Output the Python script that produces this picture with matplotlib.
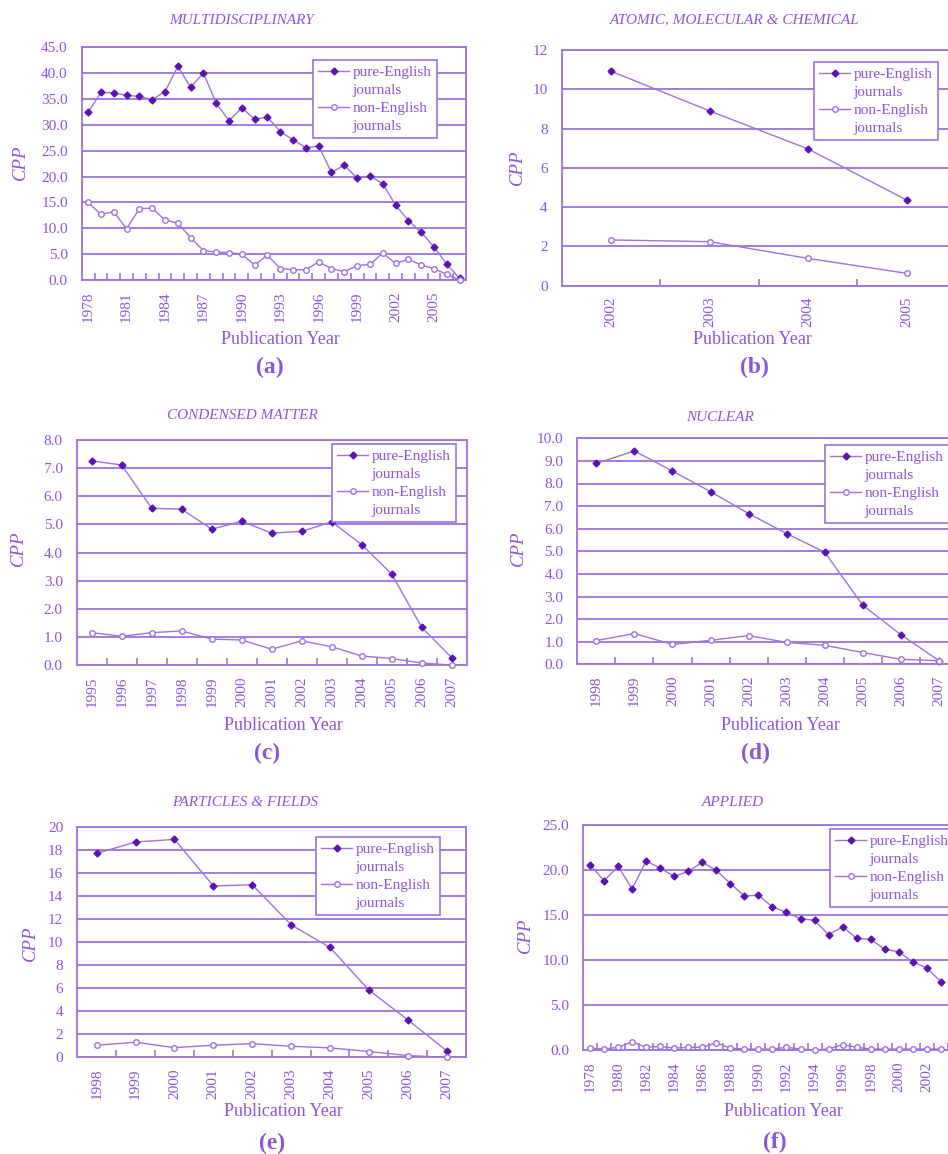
import numpy as np
import matplotlib
matplotlib.use("Agg")
import matplotlib.pyplot as plt
from matplotlib.lines import Line2D

W, H = 948, 1154
TXT = '#8a55d8'
LINE = '#9c72dc'
DARK = '#5b12b0'

plt.rcParams['font.family'] = ['Liberation Serif', 'DejaVu Serif']

# ---- data ----
years_a = list(range(1978, 2008))
pure_a = [32.4, 36.3, 36.2, 35.7, 35.5, 34.9, 36.4, 41.3, 37.3, 40.0,
          34.2, 30.8, 33.3, 31.1, 31.5, 28.7, 27.1, 25.6, 25.9, 20.8,
          22.2, 19.7, 20.1, 18.6, 14.5, 11.5, 9.2, 6.4, 3.1, 0.3]
non_a = [15.0, 12.7, 13.2, 9.9, 13.8, 13.9, 11.6, 11.0, 8.2, 5.7,
         5.4, 5.3, 5.0, 2.9, 4.8, 2.2, 2.0, 2.0, 3.5, 2.2,
         1.6, 2.8, 3.0, 5.2, 3.2, 4.0, 2.9, 2.2, 1.1, 0.0]

years_b = [2002, 2003, 2004, 2005]
pure_b = [10.92, 8.9, 6.96, 4.36]
non_b = [2.33, 2.24, 1.39, 0.63]

years_c = list(range(1995, 2008))
pure_c = [7.26, 7.11, 5.57, 5.54, 4.83, 5.11, 4.69, 4.75, 5.09, 4.28, 3.23, 1.34, 0.26]
non_c = [1.15, 1.02, 1.15, 1.21, 0.92, 0.89, 0.56, 0.86, 0.65, 0.32, 0.23, 0.07, 0.0]

years_d = list(range(1998, 2008))
pure_d = [8.89, 9.44, 8.55, 7.64, 6.67, 5.78, 4.96, 2.61, 1.31, 0.16]
non_d = [1.05, 1.36, 0.88, 1.06, 1.27, 0.97, 0.84, 0.52, 0.22, 0.16]

years_e = list(range(1998, 2008))
pure_e = [17.73, 18.72, 18.95, 14.9, 15.0, 11.53, 9.55, 5.85, 3.26, 0.58]
non_e = [1.05, 1.31, 0.84, 1.05, 1.19, 0.96, 0.82, 0.5, 0.15, 0.0]

years_f = list(range(1978, 2008))
pure_f = [20.6, 18.8, 20.4, 17.9, 21.0, 20.2, 19.3, 19.85, 20.85, 19.96,
          18.5, 17.1, 17.2, 15.9, 15.3, 14.6, 14.4, 12.8, 13.7, 12.4,
          12.3, 11.2, 10.9, 9.8, 9.1, 7.6]
non_f = [0.2, 0.1, 0.3, 0.9, 0.3, 0.4, 0.2, 0.3, 0.3, 0.8,
         0.2, 0.1, 0.1, 0.1, 0.3, 0.1, 0.0, 0.1, 0.6, 0.3,
         0.1, 0.1, 0.1, 0.1, 0.1, 0.1]

fig = plt.figure(figsize=(W / 100, H / 100), dpi=100)


def px(x, y):
    return x / W, 1 - y / H


def panel(box, years, pure, non, ymax, ystep, yfmt, lab_every, title, tpos,
          cpp, xl, letter, leg):
    left, top, right, bottom = box
    ax = fig.add_axes([left / W, 1 - bottom / H, (right - left) / W, (bottom - top) / H])
    n = len(years)
    ax.plot(np.arange(len(pure)), pure, color=LINE, lw=1.0, marker='D', ms=3.5,
            mfc=DARK, mec=DARK, zorder=3, clip_on=False)
    ax.plot(np.arange(len(non)), non, color=LINE, lw=1.0, marker='o', ms=4,
            mfc='white', mec=LINE, mew=1.0, zorder=3, clip_on=False)
    ax.set_xlim(-0.5, n - 0.5)
    ax.set_ylim(0, ymax)
    yt = np.arange(0, ymax + ystep / 2, ystep)
    ax.set_yticks(yt)
    ax.set_yticklabels([yfmt % v for v in yt])
    ax.yaxis.grid(True, color=LINE, lw=1.3)
    ax.set_axisbelow(True)

    # only label the years that fall inside the picture
    step = (right - left) / n
    idx = [i for i in range(0, n, lab_every) if left + (i + 0.5) * step < W - 5]
    ax.set_xticks(idx)
    ax.set_xticklabels([str(years[i]) for i in idx], rotation=90)
    ax.set_xticks(np.arange(0.5, n - 0.5, 1), minor=True)
    ax.tick_params(axis='x', which='major', length=0, pad=8, labelsize=11, labelcolor=TXT)
    ax.tick_params(axis='x', which='minor', length=5, direction='in', color=LINE, width=1.2)
    ax.tick_params(axis='y', length=0, pad=10, labelsize=11, labelcolor=TXT)
    for s in ax.spines.values():
        s.set_color(LINE)
        s.set_linewidth(1.3)

    fig.text(*px(*tpos), title, ha='center', va='center', color=TXT,
             fontsize=11, fontstyle='italic')
    fig.text(*px(*cpp), 'CPP', ha='center', va='center', color=TXT,
             fontsize=13.5, fontstyle='italic', rotation=90)
    fig.text(*px(*xl), 'Publication Year', ha='center', va='center',
             color=TXT, fontsize=13)
    fig.text(*px(*letter[1:]), letter[0], ha='center', va='center',
             color=TXT, fontsize=17, fontweight='bold')

    handles = [Line2D([], [], color=LINE, lw=1.0, marker='D', ms=3.5, mfc=DARK, mec=DARK),
               Line2D([], [], linestyle='none'),
               Line2D([], [], color=LINE, lw=1.0, marker='o', ms=4, mfc='white', mec=LINE),
               Line2D([], [], linestyle='none')]
    labels = ['pure-English', 'journals', 'non-English', 'journals']
    lg = fig.legend(handles, labels, loc='upper left', bbox_to_anchor=px(*leg),
                    frameon=True, fancybox=False, framealpha=1, edgecolor=LINE,
                    fontsize=11, labelspacing=0.28, handlelength=2.0,
                    handletextpad=0.25, borderpad=0.35, borderaxespad=0)
    lg.get_frame().set_linewidth(1.2)
    for t in lg.get_texts():
        t.set_color(TXT)
    return ax


panel((81.7, 47.3, 466, 280), years_a, pure_a, non_a, 45, 5, '%.1f', 3,
      'MULTIDISCIPLINARY', (242, 20), (20, 162), (280, 340), ('(a)', 270, 367), (313, 60))
panel((561.7, 50, 956, 285.7), years_b, pure_b, non_b, 12, 2, '%d', 1,
      'ATOMIC, MOLECULAR & CHEMICAL', (735, 20), (517, 167), (752, 340), ('(b)', 754, 367), (814, 62))
panel((76.7, 440, 466.7, 665), years_c, pure_c, non_c, 8, 1, '%.1f', 1,
      'CONDENSED MATTER', (242, 415), (18, 548), (283, 725), ('(c)', 267, 753), (332, 444))
panel((577.3, 438.3, 958, 664.3), years_d, pure_d, non_d, 10, 1, '%.1f', 1,
      'NUCLEAR', (720, 417), (518, 548), (780, 725), ('(d)', 756, 753), (825, 445))
panel((77.3, 827.3, 466, 1057.3), years_e, pure_e, non_e, 20, 2, '%d', 1,
      'PARTICLES & FIELDS', (245, 802), (30, 943), (283, 1112), ('(e)', 272, 1143), (316, 837))
panel((583, 825, 1004, 1050), years_f, pure_f, non_f, 25, 5, '%.1f', 2,
      'APPLIED', (733, 802), (525, 935), (783, 1112), ('(f)', 775, 1142), (830, 829))

fig.savefig('out.png', dpi=100)
